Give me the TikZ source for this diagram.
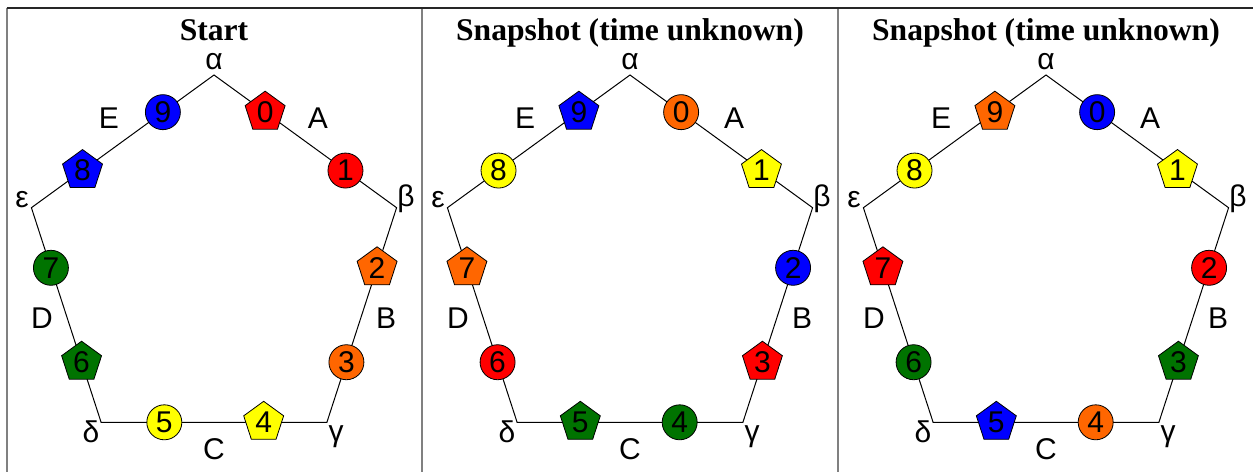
\documentclass[tikz,border=0pt]{standalone}
\usepackage{fontspec}
\setmainfont{Liberation Sans}
\newfontfamily\titlefont{Liberation Serif}
\usetikzlibrary{calc,shapes.geometric}

\definecolor{tokred}{RGB}{255,0,0}
\definecolor{tokorange}{RGB}{255,102,0}
\definecolor{tokyellow}{RGB}{255,255,0}
\definecolor{tokgreen}{RGB}{0,115,0}
\definecolor{tokblue}{RGB}{0,0,255}

\begin{document}
\begin{tikzpicture}[x=0.5pt, y=-0.5pt,
    edge/.style={black, line width=0.5pt},
    frame/.style={black!50, line width=1pt},
    lbl/.style={inner sep=0pt, font=\fontsize{15}{15}\selectfont},
    ttl/.style={anchor=base, inner sep=0pt, font=\titlefont\bfseries\fontsize{15.8}{16}\selectfont},
    circ/.style={circle, draw=black, line width=0.4pt, minimum size=17.5pt, inner sep=0pt, font=\fontsize{15}{15}\selectfont},
    pent/.style={regular polygon, regular polygon sides=5, draw=black, line width=0.4pt, minimum size=21pt, inner sep=0pt, font=\fontsize{15}{15}\selectfont}]

    \useasboundingbox (0,0) rectangle (1253,472);

    % Table rules
    \draw[frame] (7,8) -- (7,472);
    \draw[frame] (422,8) -- (422,472);
    \draw[frame] (838,8) -- (838,472);
    \draw[black!85, line width=1pt] (6.5,8) -- (1253,8);

    % Pentagon of each panel: corners, sides and labels
    \foreach \p/\cx/\heading in {s/214/Start, u/630/Snapshot (time unknown), v/1046/Snapshot (time unknown)} {
        \begin{scope}[shift={(\cx,267)}]
            \coordinate (\p-al) at (0,-192);        % alpha
            \coordinate (\p-be) at (182.6,-59.3);   % beta
            \coordinate (\p-ga) at (112.9,155.3);   % gamma
            \coordinate (\p-de) at (-112.9,155.3);  % delta
            \coordinate (\p-ep) at (-182.6,-59.3);  % epsilon

            \draw[edge] (\p-al) -- (\p-be) -- (\p-ga) -- (\p-de) -- (\p-ep) -- cycle;

            \node[ttl] (\p-head) at (0,-227) {\heading};

            \node[lbl] (\p-lal) at (0,-205) {α};
            \node[lbl] (\p-lbe) at (192,-68) {β};
            \node[lbl] (\p-lga) at (122,170) {γ};
            \node[lbl] (\p-lde) at (-123,165) {δ};
            \node[lbl] (\p-lep) at (-192,-67) {ε};

            \node[lbl] (\p-A) at (104,-149) {A};
            \node[lbl] (\p-B) at (172,51) {B};
            \node[lbl] (\p-C) at (0,182) {C};
            \node[lbl] (\p-D) at (-172,51) {D};
            \node[lbl] (\p-E) at (-105,-149) {E};
        \end{scope}
    }

    % Start
    \node[pent, fill=tokred]    (s0) at ($(s-al)!0.28!(s-be)$) {0};
    \node[circ, fill=tokred]    (s1) at ($(s-al)!0.72!(s-be)$) {1};
    \node[pent, fill=tokorange] (s2) at ($(s-be)!0.28!(s-ga)$) {2};
    \node[circ, fill=tokorange] (s3) at ($(s-be)!0.72!(s-ga)$) {3};
    \node[pent, fill=tokyellow] (s4) at ($(s-ga)!0.28!(s-de)$) {4};
    \node[circ, fill=tokyellow] (s5) at ($(s-ga)!0.72!(s-de)$) {5};
    \node[pent, fill=tokgreen]  (s6) at ($(s-de)!0.28!(s-ep)$) {6};
    \node[circ, fill=tokgreen]  (s7) at ($(s-de)!0.72!(s-ep)$) {7};
    \node[pent, fill=tokblue]   (s8) at ($(s-ep)!0.28!(s-al)$) {8};
    \node[circ, fill=tokblue]   (s9) at ($(s-ep)!0.72!(s-al)$) {9};

    % First snapshot
    \node[circ, fill=tokorange] (u0) at ($(u-al)!0.28!(u-be)$) {0};
    \node[pent, fill=tokyellow] (u1) at ($(u-al)!0.72!(u-be)$) {1};
    \node[circ, fill=tokblue]   (u2) at ($(u-be)!0.28!(u-ga)$) {2};
    \node[pent, fill=tokred]    (u3) at ($(u-be)!0.72!(u-ga)$) {3};
    \node[circ, fill=tokgreen]  (u4) at ($(u-ga)!0.28!(u-de)$) {4};
    \node[pent, fill=tokgreen]  (u5) at ($(u-ga)!0.72!(u-de)$) {5};
    \node[circ, fill=tokred]    (u6) at ($(u-de)!0.28!(u-ep)$) {6};
    \node[pent, fill=tokorange] (u7) at ($(u-de)!0.72!(u-ep)$) {7};
    \node[circ, fill=tokyellow] (u8) at ($(u-ep)!0.28!(u-al)$) {8};
    \node[pent, fill=tokblue]   (u9) at ($(u-ep)!0.72!(u-al)$) {9};

    % Second snapshot
    \node[circ, fill=tokblue]   (v0) at ($(v-al)!0.28!(v-be)$) {0};
    \node[pent, fill=tokyellow] (v1) at ($(v-al)!0.72!(v-be)$) {1};
    \node[circ, fill=tokred]    (v2) at ($(v-be)!0.28!(v-ga)$) {2};
    \node[pent, fill=tokgreen]  (v3) at ($(v-be)!0.72!(v-ga)$) {3};
    \node[circ, fill=tokorange] (v4) at ($(v-ga)!0.28!(v-de)$) {4};
    \node[pent, fill=tokblue]   (v5) at ($(v-ga)!0.72!(v-de)$) {5};
    \node[circ, fill=tokgreen]  (v6) at ($(v-de)!0.28!(v-ep)$) {6};
    \node[pent, fill=tokred]    (v7) at ($(v-de)!0.72!(v-ep)$) {7};
    \node[circ, fill=tokyellow] (v8) at ($(v-ep)!0.28!(v-al)$) {8};
    \node[pent, fill=tokorange] (v9) at ($(v-ep)!0.72!(v-al)$) {9};

\end{tikzpicture}
\end{document}
